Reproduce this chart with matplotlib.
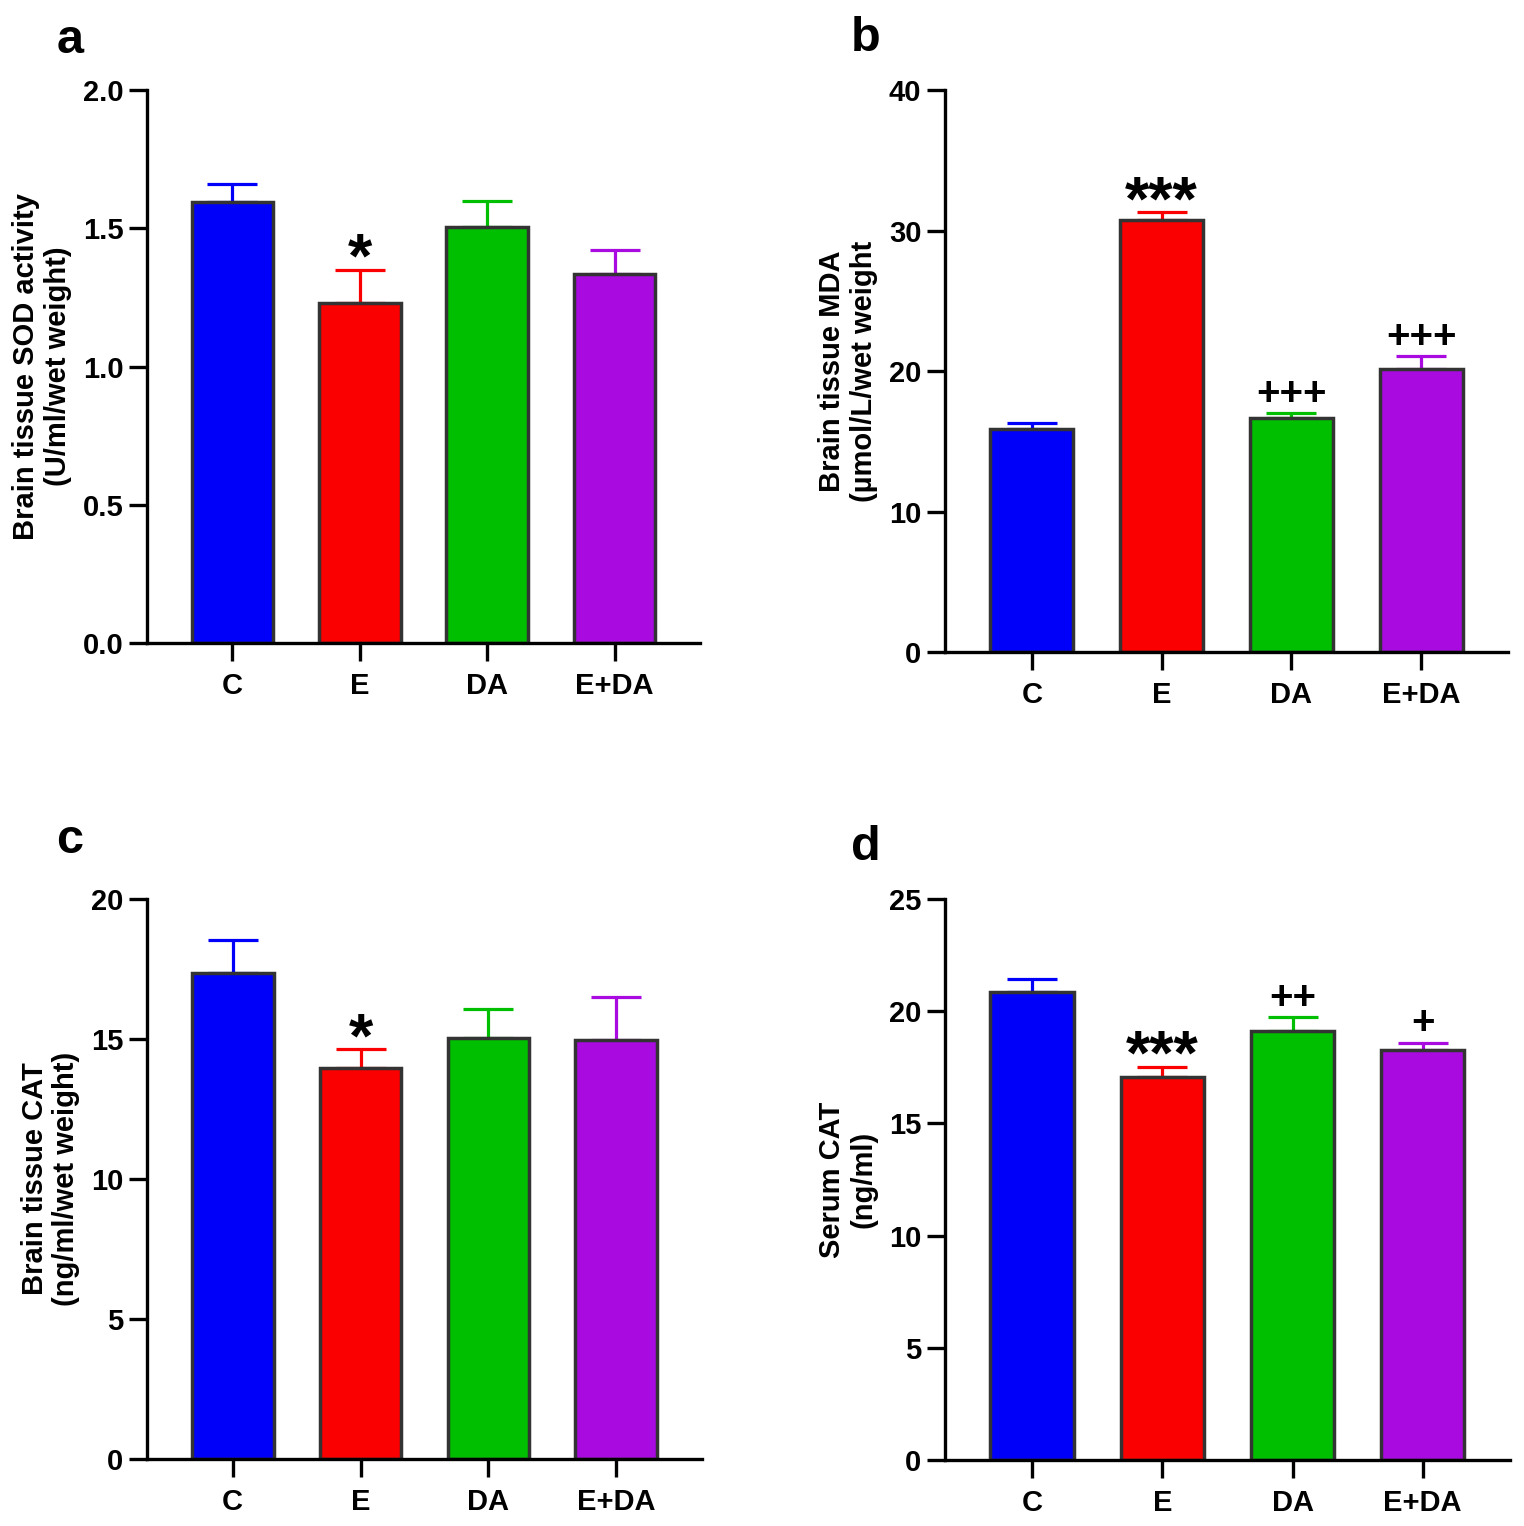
import numpy as np
import matplotlib
matplotlib.use('Agg')
import matplotlib.pyplot as plt

plt.rcParams['font.family'] = ['Liberation Sans', 'DejaVu Sans']
plt.rcParams['font.weight'] = 'bold'

groups = ['C', 'E', 'DA', 'E+DA']
colors = ['#0000fa', '#fa0000', '#00be00', '#a80ae0']

# panel a - SOD
sod_mean = [1.595, 1.23, 1.505, 1.335]
sod_err = [0.065, 0.12, 0.095, 0.085]
sod_marks = ['', '*', '', '']

# panel b - MDA
mda_mean = [15.9, 30.75, 16.65, 20.15]
mda_err = [0.4, 0.55, 0.35, 0.9]
mda_marks = ['', '***', '+++', '+++']

# panel c - brain CAT
cat_mean = [17.35, 13.98, 15.02, 14.95]
cat_err = [1.2, 0.65, 1.05, 1.55]
cat_marks = ['', '*', '', '']

# panel d - serum CAT
scat_mean = [20.85, 17.08, 19.12, 18.27]
scat_err = [0.58, 0.44, 0.62, 0.32]
scat_marks = ['', '***', '++', '+']

panels = [
    ('a', [0.0965, 0.5786, 0.3628, 0.3624], (0.046, 1 - 53 / 1526),
     sod_mean, sod_err, sod_marks, (0, 2.0), [0, 0.5, 1.0, 1.5, 2.0], '{:.1f}',
     'Brain tissue SOD activity\n(U/ml/wet weight)'),
    ('b', [0.620, 0.5727, 0.3695, 0.3683], (0.568, 1 - 51 / 1526),
     mda_mean, mda_err, mda_marks, (0, 40), [0, 10, 20, 30, 40], '{:.0f}',
     'Brain tissue MDA\n(\u00b5mol/L/wet weight'),
    ('c', [0.0965, 0.0439, 0.3641, 0.3670], (0.046, 1 - 853 / 1526),
     cat_mean, cat_err, cat_marks, (0, 20), [0, 5, 10, 15, 20], '{:.0f}',
     'Brain tissue CAT\n(ng/ml/wet weight)'),
    ('d', [0.620, 0.0433, 0.3708, 0.3676], (0.568, 1 - 860 / 1526),
     scat_mean, scat_err, scat_marks, (0, 25), [0, 5, 10, 15, 20, 25], '{:.0f}',
     'Serum CAT\n(ng/ml)'),
]

fig = plt.figure(figsize=(15.24, 15.26), dpi=100)

for letter, rect, lpos, mean, err, marks, ylim, yticks, fmt, ylabel in panels:
    ax = fig.add_axes(rect)
    x = np.arange(len(groups))
    ax.bar(x, mean, width=0.64, color=colors, edgecolor='#333333',
           linewidth=2.5, zorder=2)
    for i in range(len(groups)):
        ax.errorbar(x[i], mean[i], yerr=[[0], [err[i]]], fmt='none',
                    ecolor=colors[i], elinewidth=2.3, capsize=18,
                    capthick=2.3, zorder=1)
        if marks[i]:
            top = mean[i] + err[i]
            if '*' in marks[i]:
                ax.annotate(marks[i], (x[i], top), xytext=(0, -5),
                            textcoords='offset points', ha='center',
                            va='baseline', fontsize=45, fontweight='bold')
            else:
                ax.annotate(marks[i], (x[i], top), xytext=(0, 6),
                            textcoords='offset points', ha='center',
                            va='baseline', fontsize=29, fontweight='bold')
    ax.set_xlim(-0.67, 3.67)
    ax.set_ylim(*ylim)
    ax.set_yticks(yticks)
    ax.set_yticklabels([fmt.format(v) for v in yticks])
    ax.set_xticks(x)
    ax.set_xticklabels(groups)
    ax.spines['top'].set_visible(False)
    ax.spines['right'].set_visible(False)
    ax.spines['left'].set_linewidth(2.4)
    ax.spines['bottom'].set_linewidth(2.4)
    ax.tick_params(axis='both', length=13, width=2.4, labelsize=21, pad=4)
    ax.tick_params(axis='x', pad=8)
    ax.set_ylabel(ylabel, fontsize=21, fontweight='bold', labelpad=8,
                  linespacing=1.15)
    for lab in ax.get_xticklabels() + ax.get_yticklabels():
        lab.set_fontweight('bold')
    fig.text(lpos[0], lpos[1], letter, fontsize=35, fontweight='bold',
             ha='center', va='baseline')

fig.savefig('out.png', dpi=100)
